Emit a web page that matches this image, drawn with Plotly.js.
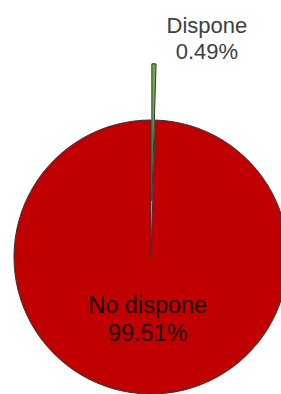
<!DOCTYPE html>
<html>
<head>
<meta charset="utf-8">
<script src="https://cdn.plot.ly/plotly-3.0.1.min.js"></script>
<style>
html,body{margin:0;padding:0;background:#fff;overflow:hidden;width:281px;height:394px;}
#chart{position:absolute;left:-100px;top:-100px;width:500px;height:600px;}
</style>
</head>
<body>
<div id="chart"></div>
<script>
var labels = ["Dispone", "No dispone"];
var values = [0.49, 99.51];
var colors = ["#70ad47", "#c00000"];
var pulls = [0.41, 0];
var templates = [
  "<span style='font-size:22px'>%{label}</span><br><span style='font-size:22px'>%{percent:.2%}</span>",
  "<span style='font-size:23.5px'>&nbsp;</span><br><span style='font-size:23.5px'>%{label}&nbsp;</span><br><span style='font-size:23.5px'>%{percent:.2%}&nbsp;</span><br><span style='font-size:1px'>&nbsp;</span>"
];

var trace = {
  type: "pie",
  labels: labels,
  values: values,
  sort: false,
  direction: "clockwise",
  rotation: 0,
  pull: pulls,
  marker: {colors: colors, line: {color: "#333333", width: 1}},
  texttemplate: templates,
  textposition: ["outside", "inside"],
  insidetextorientation: "horizontal",
  insidetextfont: {family: "Liberation Sans, Arial, sans-serif", size: 21, color: "#1a0a0a"},
  outsidetextfont: {family: "Liberation Sans, Arial, sans-serif", size: 19.5, color: "#404040"},
  hoverinfo: "none",
  domain: {x: [0.1156, 0.8884], y: [0.0830, 0.7270]},
  automargin: false
};

var layout = {
  width: 500,
  height: 600,
  margin: {l: 0, r: 0, t: 0, b: 0},
  showlegend: false,
  paper_bgcolor: "#ffffff",
  plot_bgcolor: "#ffffff"
};

Plotly.newPlot("chart", [trace], layout, {displayModeBar: false, staticPlot: true});
</script>
</body>
</html>
